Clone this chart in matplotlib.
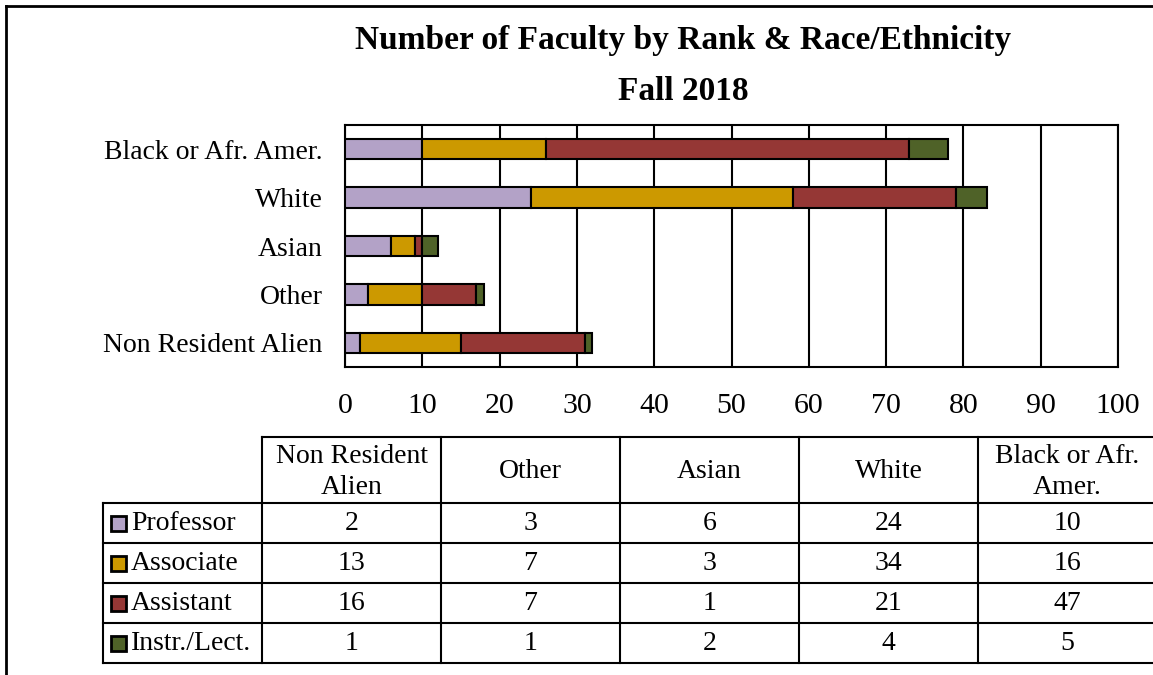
import matplotlib
matplotlib.use("Agg")
import matplotlib.pyplot as plt
import numpy as np

plt.rcParams['font.family'] = ['Liberation Serif', 'DejaVu Serif']

categories = ["Non Resident Alien", "Other", "Asian", "White", "Black or Afr. Amer."]
header_labels = ["Non Resident\nAlien", "Other", "Asian", "White", "Black or Afr.\nAmer."]
series_names = ["Professor", "Associate", "Assistant", "Instr./Lect."]
professor = [2, 3, 6, 24, 10]
associate = [13, 7, 3, 34, 16]
assistant = [16, 7, 1, 21, 47]
instr = [1, 1, 2, 4, 5]
colors = ["#B3A2C7", "#CC9900", "#953735", "#4F6228"]
xticks = [0, 10, 20, 30, 40, 50, 60, 70, 80, 90, 100]

series = [professor, associate, assistant, instr]

W, H = 1153, 675
fig = plt.figure(figsize=(W / 100, H / 100), dpi=100)

# overlay axes in pixel coordinates for frame and table
ov = fig.add_axes([0, 0, 1, 1])
ov.set_xlim(0, W)
ov.set_ylim(H, 0)
ov.axis('off')

# outer frame
ov.plot([6, 6], [H, 6], color='black', lw=2)
ov.plot([6, W], [6, 6], color='black', lw=2)

# title
ov.text(683, 40, "Number of Faculty by Rank & Race/Ethnicity", ha='center', va='center',
        fontsize=24, fontweight='bold')
ov.text(683, 91, "Fall 2018", ha='center', va='center', fontsize=24, fontweight='bold')

# bar chart
ax = fig.add_axes([345 / W, 1 - 367 / H, (1118 - 345) / W, (367 - 125) / H])
ypos = np.arange(len(categories))
left = np.zeros(len(categories))
for vals, col, name in zip(series, colors, series_names):
    ax.barh(ypos, vals, left=left, height=0.42, color=col, edgecolor='black',
            linewidth=1.5, label=name, zorder=3)
    left += np.array(vals)
ax.set_xlim(0, 100)
ax.set_ylim(-0.5, len(categories) - 0.5)
ax.set_xticks(xticks)
ax.set_xticklabels([str(t) for t in xticks], fontsize=21.5)
ax.set_yticks(ypos)
ax.set_yticklabels(categories, fontsize=20)
ax.tick_params(axis='x', length=0, pad=19)
ax.tick_params(axis='y', length=0, pad=16)
ax.grid(axis='x', color='black', lw=1.5, zorder=0)
for s in ax.spines.values():
    s.set_linewidth(1.5)
    s.set_color('black')

# data table
col_x = [262, 441, 620, 799, 978, 1157]
lab_x0 = 103
row_y = [437, 503, 543, 583, 623, 663]
lw = 1.5
ov.plot([col_x[0], W], [row_y[0], row_y[0]], color='black', lw=lw)
for y in row_y[1:]:
    ov.plot([lab_x0, W], [y, y], color='black', lw=lw)
ov.plot([lab_x0, lab_x0], [row_y[1], row_y[-1]], color='black', lw=lw)
for x in col_x[:-1]:
    ov.plot([x, x], [row_y[0], row_y[-1]], color='black', lw=lw)

for j, lab in enumerate(header_labels):
    cx = (col_x[j] + col_x[j + 1]) / 2
    ov.text(cx, (row_y[0] + row_y[1]) / 2 + 2, lab, ha='center', va='center',
            fontsize=20, linespacing=1.35)

for i, (vals, col, name) in enumerate(zip(series, colors, series_names)):
    cy = (row_y[i + 1] + row_y[i + 2]) / 2
    ov.add_patch(plt.Rectangle((111, cy - 7), 15, 15, facecolor=col, edgecolor='black', lw=2))
    ov.text(131, cy + 1, name, ha='left', va='center', fontsize=20)
    for j, v in enumerate(vals):
        cx = (col_x[j] + col_x[j + 1]) / 2
        ov.text(cx, cy + 1, str(v), ha='center', va='center', fontsize=20)

fig.savefig("out.png", dpi=100)
